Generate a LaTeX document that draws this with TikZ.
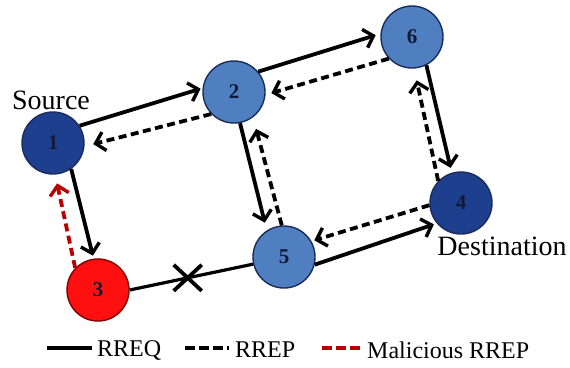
\documentclass[tikz,border=0pt]{standalone}
\usepackage{fontspec}
\setmainfont{Liberation Serif}
\usetikzlibrary{arrows.meta}
\definecolor{darkblue}{HTML}{1E3F8E}
\definecolor{lightblue}{HTML}{4F7FC0}
\definecolor{nodered}{HTML}{FF1010}
\definecolor{rimblue}{HTML}{1A2D5A}
\definecolor{numcol}{HTML}{0E1A36}
\definecolor{malred}{HTML}{B80000}
\tikzset{
  nd/.style={circle, minimum size=62pt, inner sep=0pt, draw=rimblue, line width=1.4pt,
    font=\fontsize{21}{21}\selectfont\bfseries, text=numcol},
  dk/.style={nd, fill=darkblue},
  lt/.style={nd, fill=lightblue},
  rd/.style={nd, fill=nodered, draw=malred!70!black},
  lbl/.style={font=\fontsize{28}{28}\selectfont, inner sep=0pt},
  leglbl/.style={font=\fontsize{24}{24}\selectfont, inner sep=0pt, anchor=west},
  req/.style={line width=3.8pt, -{Straight Barb[length=9pt,width=19pt,line width=3.4pt]}},
  rep/.style={req, dash pattern=on 8pt off 4.5pt},
  mal/.style={rep, draw=malred},
  legsolid/.style={line width=4pt},
  legdash/.style={line width=4pt, dash pattern=on 10pt off 4pt},
}
\begin{document}
\begin{tikzpicture}[x=1pt,y=-1pt]
\useasboundingbox (0,0) rectangle (570,367);
\node[dk] (n1) at (53,143) {1};
\node[lt] (n2) at (234,92) {2};
\node[rd] (n3) at (98,290) {3};
\node[dk] (n4) at (461,203) {4};
\node[lt] (n5) at (284,257) {5};
\node[lt] (n6) at (412,37) {6};
\node[lbl] (src) at (51,100) {Source};
\node[lbl] (dst) at (502,246) {Destination};
% 1 - 2
\draw[req, shorten >=2pt] (n1.33) -- (n2.173);
\draw[rep, shorten >=9pt] (n2.224) -- (n1.-6);
% 2 - 6
\draw[req, shorten >=5pt] (n2.40) -- (n6.174);
\draw[rep, shorten >=6pt] (n6.223) -- (n2.-5);
% 6 - 4
\draw[req, shorten >=5pt] (n6.-63) -- (n4.107);
\draw[rep, shorten >=12pt] (n4.136) -- (n6.-86);
% 2 - 5
\draw[req, shorten >=8pt] (n2.-79) -- (n5.123);
\draw[rep, shorten >=12pt] (n5.94) -- (n2.-53);
% 4 - 5
\draw[rep, shorten >=3pt] (n4.184) -- (n5.30);
\draw[req, shorten >=3pt] (n5.-14) -- (n4.220);
% 1 - 3
\draw[req, shorten >=3pt] (n1.-55) -- (n3.98);
\draw[mal, shorten >=9pt] (n3.136) -- (n1.-86);
% 3 - 5 broken
\draw[line width=3.2pt] (n3.east) -- coordinate[pos=0.47] (brk) (n5.193);
\draw[line width=3.8pt] ([shift={(-14,-13)}]brk) -- ([shift={(14,13)}]brk)
      ([shift={(-14,13)}]brk) -- ([shift={(14,-13)}]brk);
% legend
\coordinate (a1) at (47,348); \coordinate (a2) at (92,348);
\draw[legsolid] (a1) -- (a2);
\node[leglbl] (l1) at (97,350) {RREQ};
\coordinate (b1) at (185,348); \coordinate (b2) at (229,348);
\draw[legdash] (b1) -- (b2);
\node[leglbl] (l2) at (235,350) {RREP};
\coordinate (c1) at (322,348); \coordinate (c2) at (363,348);
\draw[legdash, draw=malred] (c1) -- (c2);
\node[leglbl] (l3) at (367,350) {Malicious RREP};
\end{tikzpicture}
\end{document}
